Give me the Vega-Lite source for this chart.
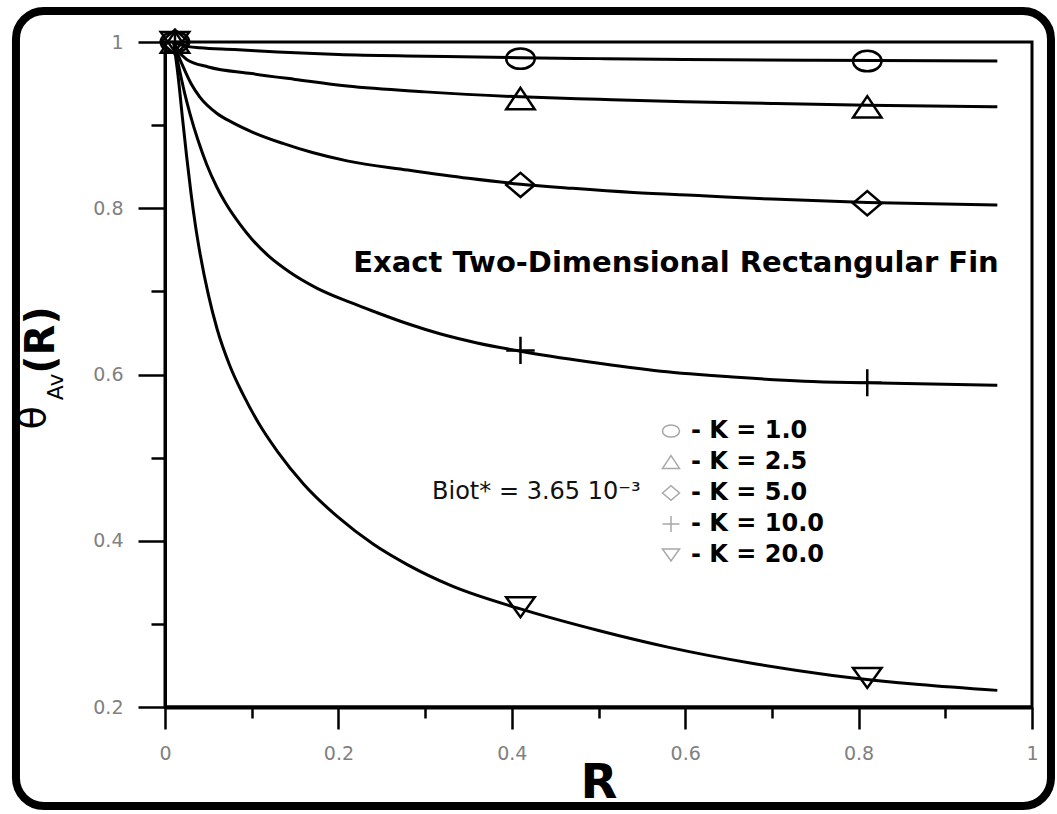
{
  "$schema": "https://vega.github.io/schema/vega-lite/v6.json",
  "width": 867,
  "height": 665,
  "autosize": "none",
  "padding": {"left": 165, "top": 42, "right": 25, "bottom": 107},
  "background": "white",
  "datasets": {
    "curves": [
      {"K": "1.0", "R": 0.01, "theta": 1.0},
      {"K": "1.0", "R": 0.02, "theta": 0.996},
      {"K": "1.0", "R": 0.04, "theta": 0.993},
      {"K": "1.0", "R": 0.08, "theta": 0.991},
      {"K": "1.0", "R": 0.13, "theta": 0.988},
      {"K": "1.0", "R": 0.2, "theta": 0.985},
      {"K": "1.0", "R": 0.3, "theta": 0.983},
      {"K": "1.0", "R": 0.41, "theta": 0.981},
      {"K": "1.0", "R": 0.5, "theta": 0.98},
      {"K": "1.0", "R": 0.6, "theta": 0.979},
      {"K": "1.0", "R": 0.75, "theta": 0.978},
      {"K": "1.0", "R": 0.96, "theta": 0.977},
      {"K": "2.5", "R": 0.01, "theta": 1.0},
      {"K": "2.5", "R": 0.015, "theta": 0.99},
      {"K": "2.5", "R": 0.025, "theta": 0.979},
      {"K": "2.5", "R": 0.05, "theta": 0.97},
      {"K": "2.5", "R": 0.1, "theta": 0.962},
      {"K": "2.5", "R": 0.15, "theta": 0.955},
      {"K": "2.5", "R": 0.21, "theta": 0.947},
      {"K": "2.5", "R": 0.3, "theta": 0.94},
      {"K": "2.5", "R": 0.41, "theta": 0.934},
      {"K": "2.5", "R": 0.5, "theta": 0.931},
      {"K": "2.5", "R": 0.6, "theta": 0.928},
      {"K": "2.5", "R": 0.7, "theta": 0.926},
      {"K": "2.5", "R": 0.81, "theta": 0.924},
      {"K": "2.5", "R": 0.96, "theta": 0.922},
      {"K": "5.0", "R": 0.01, "theta": 1.0},
      {"K": "5.0", "R": 0.015, "theta": 0.985},
      {"K": "5.0", "R": 0.021, "theta": 0.97},
      {"K": "5.0", "R": 0.03, "theta": 0.95},
      {"K": "5.0", "R": 0.04, "theta": 0.934},
      {"K": "5.0", "R": 0.06, "theta": 0.914},
      {"K": "5.0", "R": 0.078, "theta": 0.903},
      {"K": "5.0", "R": 0.1, "theta": 0.892},
      {"K": "5.0", "R": 0.136, "theta": 0.878},
      {"K": "5.0", "R": 0.17, "theta": 0.867},
      {"K": "5.0", "R": 0.21, "theta": 0.857},
      {"K": "5.0", "R": 0.28, "theta": 0.846},
      {"K": "5.0", "R": 0.35, "theta": 0.836},
      {"K": "5.0", "R": 0.41, "theta": 0.829},
      {"K": "5.0", "R": 0.47, "theta": 0.824},
      {"K": "5.0", "R": 0.54, "theta": 0.819},
      {"K": "5.0", "R": 0.62, "theta": 0.815},
      {"K": "5.0", "R": 0.7, "theta": 0.811},
      {"K": "5.0", "R": 0.81, "theta": 0.807},
      {"K": "5.0", "R": 0.96, "theta": 0.804},
      {"K": "10.0", "R": 0.01, "theta": 1.0},
      {"K": "10.0", "R": 0.017, "theta": 0.965},
      {"K": "10.0", "R": 0.023, "theta": 0.937},
      {"K": "10.0", "R": 0.029, "theta": 0.913},
      {"K": "10.0", "R": 0.038, "theta": 0.882},
      {"K": "10.0", "R": 0.048, "theta": 0.853},
      {"K": "10.0", "R": 0.06, "theta": 0.825},
      {"K": "10.0", "R": 0.07, "theta": 0.806},
      {"K": "10.0", "R": 0.087, "theta": 0.78},
      {"K": "10.0", "R": 0.1, "theta": 0.763},
      {"K": "10.0", "R": 0.12, "theta": 0.742},
      {"K": "10.0", "R": 0.144, "theta": 0.723},
      {"K": "10.0", "R": 0.175, "theta": 0.704},
      {"K": "10.0", "R": 0.213, "theta": 0.687},
      {"K": "10.0", "R": 0.243, "theta": 0.675},
      {"K": "10.0", "R": 0.28, "theta": 0.661},
      {"K": "10.0", "R": 0.317, "theta": 0.649},
      {"K": "10.0", "R": 0.36, "theta": 0.638},
      {"K": "10.0", "R": 0.41, "theta": 0.628},
      {"K": "10.0", "R": 0.49, "theta": 0.615},
      {"K": "10.0", "R": 0.572, "theta": 0.604},
      {"K": "10.0", "R": 0.655, "theta": 0.597},
      {"K": "10.0", "R": 0.737, "theta": 0.592},
      {"K": "10.0", "R": 0.81, "theta": 0.59},
      {"K": "10.0", "R": 0.96, "theta": 0.587},
      {"K": "20.0", "R": 0.01, "theta": 1.0},
      {"K": "20.0", "R": 0.015, "theta": 0.96},
      {"K": "20.0", "R": 0.02, "theta": 0.91},
      {"K": "20.0", "R": 0.025, "theta": 0.862},
      {"K": "20.0", "R": 0.03, "theta": 0.818},
      {"K": "20.0", "R": 0.035, "theta": 0.78},
      {"K": "20.0", "R": 0.04, "theta": 0.748},
      {"K": "20.0", "R": 0.05, "theta": 0.696},
      {"K": "20.0", "R": 0.06, "theta": 0.655},
      {"K": "20.0", "R": 0.075, "theta": 0.61},
      {"K": "20.0", "R": 0.09, "theta": 0.576},
      {"K": "20.0", "R": 0.11, "theta": 0.538},
      {"K": "20.0", "R": 0.13, "theta": 0.507},
      {"K": "20.0", "R": 0.16, "theta": 0.468},
      {"K": "20.0", "R": 0.2, "theta": 0.428},
      {"K": "20.0", "R": 0.24, "theta": 0.396},
      {"K": "20.0", "R": 0.28, "theta": 0.371},
      {"K": "20.0", "R": 0.33, "theta": 0.346},
      {"K": "20.0", "R": 0.41, "theta": 0.318},
      {"K": "20.0", "R": 0.5, "theta": 0.292},
      {"K": "20.0", "R": 0.58, "theta": 0.272},
      {"K": "20.0", "R": 0.68, "theta": 0.252},
      {"K": "20.0", "R": 0.77, "theta": 0.238},
      {"K": "20.0", "R": 0.87, "theta": 0.227},
      {"K": "20.0", "R": 0.96, "theta": 0.22}
    ],
    "markers": [
      {"K": "1.0", "R": 0.0115, "theta": 1.0},
      {"K": "1.0", "R": 0.41, "theta": 0.98},
      {"K": "1.0", "R": 0.81, "theta": 0.977},
      {"K": "2.5", "R": 0.0115, "theta": 1.0},
      {"K": "2.5", "R": 0.41, "theta": 0.932},
      {"K": "2.5", "R": 0.81, "theta": 0.922},
      {"K": "5.0", "R": 0.0115, "theta": 1.0},
      {"K": "5.0", "R": 0.41, "theta": 0.828},
      {"K": "5.0", "R": 0.81, "theta": 0.806},
      {"K": "10.0", "R": 0.0115, "theta": 1.0},
      {"K": "10.0", "R": 0.41, "theta": 0.629},
      {"K": "10.0", "R": 0.81, "theta": 0.59},
      {"K": "20.0", "R": 0.0115, "theta": 1.0},
      {"K": "20.0", "R": 0.41, "theta": 0.32},
      {"K": "20.0", "R": 0.81, "theta": 0.235}
    ]
  },
  "layer": [
    {
      "data": {"values": [{}]},
      "mark": {"type": "rect", "fillOpacity": 0, "stroke": "black", "strokeWidth": 8, "cornerRadius": 28},
      "encoding": {
        "x": {"datum": -0.1719, "type": "quantitative", "scale": {"domain": [0, 1], "nice": false}},
        "x2": {"datum": 1.0219},
        "y": {"datum": 1.0373, "type": "quantitative", "scale": {"domain": [0.2, 1], "nice": false, "zero": false}},
        "y2": {"datum": 0.0809}
      }
    },
    {
      "data": {"name": "curves"},
      "mark": {"type": "line", "stroke": "black", "strokeWidth": 3, "interpolate": "monotone"},
      "encoding": {
        "x": {
          "field": "R", "type": "quantitative",
          "scale": {"domain": [0, 1], "nice": false},
          "axis": {
            "title": "R",
            "values": [0, 0.1, 0.2, 0.3, 0.4, 0.5, 0.6, 0.7, 0.8, 0.9, 1],
            "format": "~g",
            "labelExpr": "round(datum.value*10)%2===0 ? datum.label : ''",
            "labelFlush": false,
            "labelOverlap": false,
            "tickSize": {"condition": {"test": "round(datum.value*10)%2===0", "value": 22}, "value": 11},
            "tickWidth": 2.5,
            "domainWidth": 4,
            "labelPadding": 15,
            "titleFont": "DejaVu Sans",
            "titleFontWeight": "bold",
            "titleFontSize": 48,
            "titleColor": "black",
            "titlePadding": -4
          }
        },
        "y": {
          "field": "theta", "type": "quantitative",
          "scale": {"domain": [0.2, 1], "nice": false, "zero": false},
          "axis": {
            "title": null,
            "values": [0.2, 0.3, 0.4, 0.5, 0.6, 0.7, 0.8, 0.9, 1],
            "format": "~g",
            "labelExpr": "round(datum.value*10)%2===0 ? datum.label : ''",
            "labelFlush": false,
            "labelOverlap": false,
            "tickSize": {"condition": {"test": "round(datum.value*10)%2===0", "value": 27}, "value": 14},
            "tickWidth": 2.5,
            "domainWidth": 3,
            "labelPadding": 15
          }
        },
        "detail": {"field": "K"},
        "order": {"field": "R"}
      }
    },
    {
      "data": {"name": "markers"},
      "mark": {"type": "point", "filled": false, "stroke": "black", "strokeWidth": 2.5, "size": 810, "opacity": 1},
      "encoding": {
        "x": {"field": "R", "type": "quantitative", "scale": {"domain": [0, 1], "nice": false}},
        "y": {"field": "theta", "type": "quantitative", "scale": {"domain": [0.2, 1], "nice": false, "zero": false}},
        "shape": {
          "field": "K", "type": "nominal",
          "scale": {
            "domain": ["1.0", "2.5", "5.0", "10.0", "20.0"],
            "range": [
              "M-1,0A1,0.72 0 1,1 1,0A1,0.72 0 1,1 -1,0Z",
              "M0,-0.75L1,0.75L-1,0.75Z",
              "M-1,0L0,-0.85L1,0L0,0.85Z",
              "M-1,0H1M0,-0.95V0.95",
              "M-1,-0.7L1,-0.7L0,0.7Z"
            ]
          },
          "legend": {
            "title": null,
            "orient": "none",
            "legendX": 494,
            "legendY": 377,
            "labelExpr": "'- K = ' + datum.label",
            "labelFont": "DejaVu Sans",
            "labelFontWeight": "bold",
            "labelFontSize": 24,
            "labelColor": "black",
            "labelOffset": 8,
            "labelLimit": 300,
            "rowPadding": 7,
            "symbolSize": 289,
            "symbolFillColor": "transparent",
            "symbolStrokeColor": "#a8a8a8",
            "symbolStrokeWidth": 1.5
          }
        }
      }
    },
    {
      "data": {"values": [{}]},
      "mark": {"type": "text", "text": "Exact Two-Dimensional Rectangular Fin", "font": "DejaVu Sans", "fontWeight": "bold", "fontSize": 29, "align": "center", "baseline": "middle", "color": "black"},
      "encoding": {
        "x": {"datum": 0.5894, "type": "quantitative", "scale": {"domain": [0, 1], "nice": false}},
        "y": {"datum": 0.7341, "type": "quantitative", "scale": {"domain": [0.2, 1], "nice": false, "zero": false}}
      }
    },
    {
      "data": {"values": [{}]},
      "mark": {"type": "text", "text": "Biot* = 3.65 10⁻³", "font": "DejaVu Sans", "fontSize": 24, "align": "left", "baseline": "middle", "color": "#111111"},
      "encoding": {
        "x": {"datum": 0.308, "type": "quantitative", "scale": {"domain": [0, 1], "nice": false}},
        "y": {"datum": 0.4586, "type": "quantitative", "scale": {"domain": [0.2, 1], "nice": false, "zero": false}}
      }
    },
    {
      "data": {"values": [{}]},
      "mark": {"type": "text", "text": "θ", "font": "DejaVu Sans", "fontSize": 38, "align": "center", "baseline": "middle", "angle": 270, "color": "black"},
      "encoding": {
        "x": {"datum": -0.1511, "type": "quantitative", "scale": {"domain": [0, 1], "nice": false}},
        "y": {"datum": 0.5477, "type": "quantitative", "scale": {"domain": [0.2, 1], "nice": false, "zero": false}}
      }
    },
    {
      "data": {"values": [{}]},
      "mark": {"type": "text", "text": "Av", "font": "DejaVu Sans", "fontSize": 22, "align": "center", "baseline": "middle", "angle": 270, "color": "black"},
      "encoding": {
        "x": {"datum": -0.1257, "type": "quantitative", "scale": {"domain": [0, 1], "nice": false}},
        "y": {"datum": 0.585, "type": "quantitative", "scale": {"domain": [0.2, 1], "nice": false, "zero": false}}
      }
    },
    {
      "data": {"values": [{}]},
      "mark": {"type": "text", "text": "(R)", "font": "DejaVu Sans", "fontWeight": "bold", "fontSize": 40, "align": "center", "baseline": "middle", "angle": 270, "color": "black"},
      "encoding": {
        "x": {"datum": -0.1419, "type": "quantitative", "scale": {"domain": [0, 1], "nice": false}},
        "y": {"datum": 0.6415, "type": "quantitative", "scale": {"domain": [0.2, 1], "nice": false, "zero": false}}
      }
    }
  ],
  "config": {
    "view": {"stroke": "black", "strokeWidth": 3},
    "font": "DejaVu Sans",
    "axis": {
      "grid": false,
      "domainColor": "black",
      "tickColor": "black",
      "labelFont": "DejaVu Sans",
      "labelColor": "#808080",
      "labelFontSize": 19
    }
  }
}
